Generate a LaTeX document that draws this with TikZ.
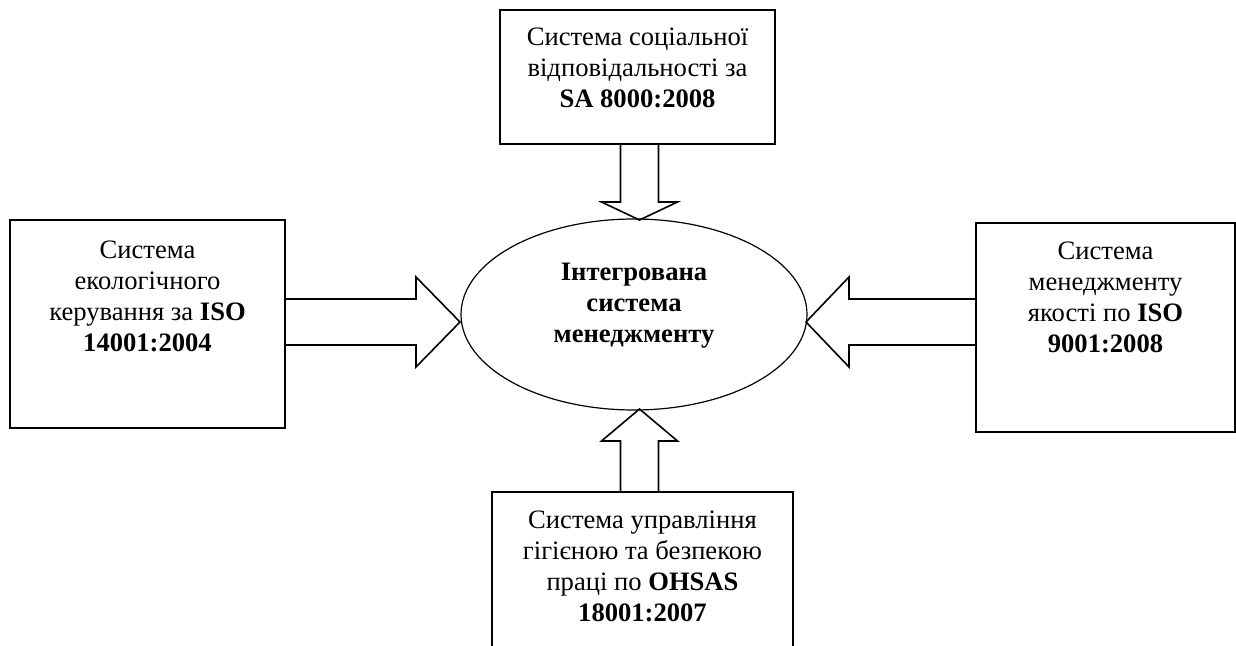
\documentclass[tikz,border=0pt]{standalone}
\usepackage{fontspec}
\setmainfont{Liberation Serif}
\usepackage{tikz}
\usetikzlibrary{
    positioning,
    shapes.geometric
}

\begin{document}
\begin{tikzpicture}[x=0.5pt,y=-0.5pt,
   box/.style={draw,line width=0.8pt,inner sep=0pt},
   txt/.style={align=center,inner sep=0pt,font=\fontsize{13.3pt}{15.5pt}\selectfont},
   fat/.style={draw,line width=0.8pt,line join=miter}]
  \useasboundingbox (0,0) rectangle (1236,646);
  % boxes round the centre
  \node[box,minimum width=137.5pt,minimum height=67pt](tbox) at (637.5,77){};
  \node[box,minimum width=137.5pt,minimum height=104pt](lbox) at (147.5,324){};
  \node[box,minimum width=129.5pt,minimum height=104.5pt](rbox) at (1105.5,327.5){};
  \node[box,minimum width=150.5pt,minimum height=104pt](bbox) at (642.5,596){};
  \node[ellipse,draw,line width=0.6pt,minimum width=173pt,minimum height=95.5pt,inner sep=0pt](isys) at (634,314.5){};
  % texts
  \node[txt,below=9pt of tbox.north](ttxt){Система соціальної\\відповідальності за\\\textbf{SA 8000:2008}};
  \node[txt,below=10.5pt of lbox.north](ltxt){Система\\екологічного\\керування за \textbf{ISO}\\\textbf{14001:2004}};
  \node[txt,below=9.5pt of rbox.north](rtxt){Система\\менеджменту\\якості по \textbf{ISO}\\\textbf{9001:2008}};
  \node[txt,below=9.5pt of bbox.north](btxt){Система управління\\гігієною та безпекою\\праці по \textbf{OHSAS}\\\textbf{18001:2007}};
  \node[txt,font=\fontsize{13.3pt}{15.5pt}\selectfont\bfseries](ctxt) at (634,306){Інтегрована\\система\\менеджменту};
  % hollow arrows into the ellipse
  \coordinate (lS) at (285,322);   \coordinate (lT) at (460,322);
  \coordinate (rS) at (976,322);   \coordinate (rT) at (806,322);
  \coordinate (tS) at (639.5,144); \coordinate (tT) at (639.5,220);
  \coordinate (bS) at (639.5,492); \coordinate (bT) at (639.5,409);
  \draw[fat] (lS) ++(0,-23) -- ++(131,0) -- ++(0,-22) -- (lT) -- ++(-44,45) -- ++(0,-22) -- ++(-131,0);
  \draw[fat] (rS) ++(0,-23) -- ++(-127,0) -- ++(0,-22) -- (rT) -- ++(43,45) -- ++(0,-22) -- ++(127,0);
  \draw[fat] (tS) ++(-19,0) -- ++(0,58) -- ++(-19,0) -- (tT) -- ++(38,-18) -- ++(-19,0) -- ++(0,-58);
  \draw[fat] (bS) ++(-19,0) -- ++(0,-51) -- ++(-19,0) -- (bT) -- ++(38,32) -- ++(-19,0) -- ++(0,51);
\end{tikzpicture}
\end{document}
